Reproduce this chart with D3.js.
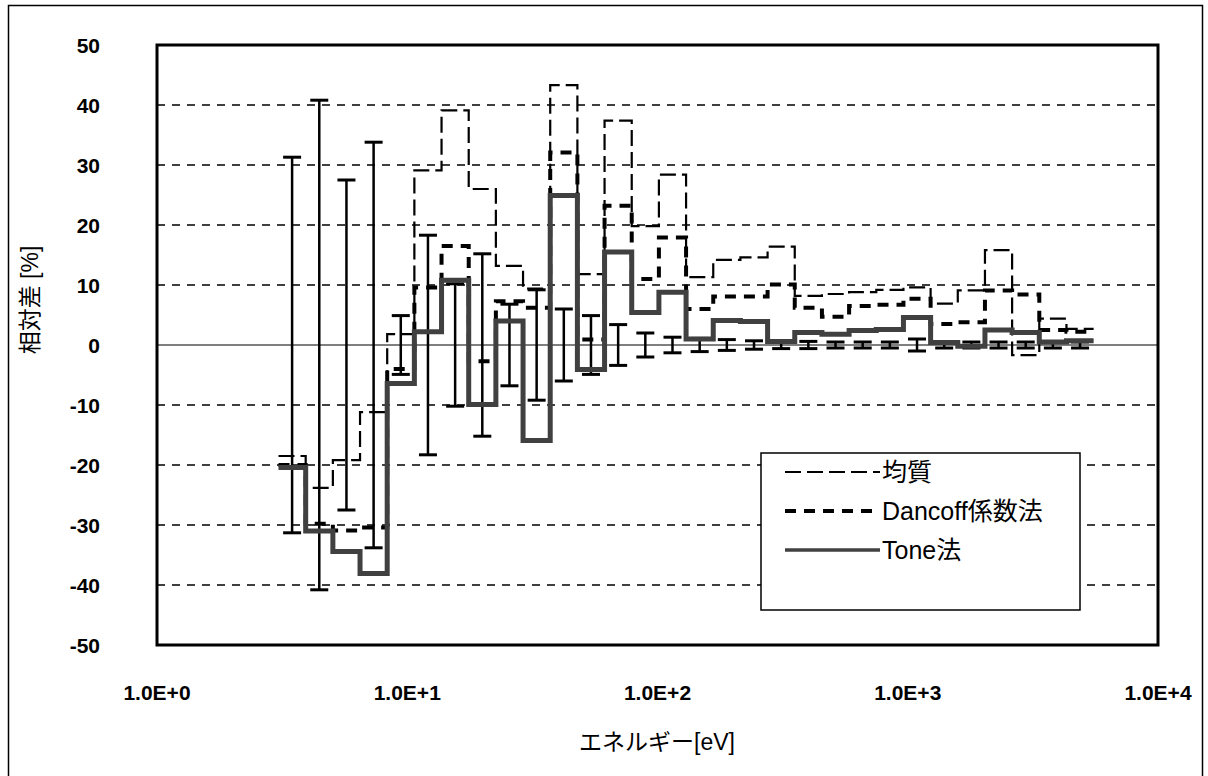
<!DOCTYPE html>
<html>
<head>
<meta charset="utf-8">
<script src="https://cdn.jsdelivr.net/npm/d3@7"></script>
<style>
  body { margin: 0; background: #fff; }
  text { font-family: "Liberation Sans", Arial, "Noto Sans CJK JP", sans-serif; }
</style>
</head>
<body>
<div id="chart"></div>
<script>
// 相対差 vs エネルギー : step plots per energy group (low -> high energy)

// group boundaries [eV] (30 groups)
const edges = [3.059, 3.928, 5.044, 6.476, 8.315, 10.677, 13.710, 17.604, 22.603, 29.023,
  37.266, 47.851, 61.442, 78.893, 101.30, 130.07, 167.02, 214.45, 275.36, 353.57,
  454.00, 582.94, 748.52, 961.12, 1234.1, 1584.6, 2034.7, 2612.6, 3354.6, 4307.4, 5530.8];

// relative difference [%] per group
const homog = [-18.5, -23.8, -19.2, -11.2, 1.8, 29.1, 39.1, 26.0, 13.2, 9.4,
  43.3, 11.8, 37.4, 19.8, 28.4, 11.3, 14.2, 14.6, 16.4, 8.2,
  8.5, 8.8, 9.2, 9.6, 6.9, 9.1, 15.8, -1.7, 4.4, 2.7];
const dancoff = [-20.0, -29.8, -30.9, -30.4, -4.0, 9.6, 16.5, -2.7, 7.3, 6.2,
  32.1, 0.9, 23.2, 11.0, 17.9, 6.0, 8.1, 8.1, 10.1, 6.2,
  4.7, 6.5, 6.7, 7.7, 3.5, 3.8, 9.1, 8.4, 2.5, 2.2];
const tone = [-20.4, -31.0, -34.4, -38.1, -6.4, 2.2, 10.8, -9.9, 4.0, -15.9,
  24.9, -4.1, 15.5, 5.4, 8.8, 1.0, 4.1, 3.9, 0.6, 2.1,
  1.8, 2.4, 2.6, 4.6, 0.4, -0.2, 2.5, 2.1, 0.5, 0.7];
// error bar half width [%]
const errs = [31.3, 40.8, 27.5, 33.8, 4.9, 18.3, 10.2, 15.2, 6.8, 9.2,
  6.0, 4.9, 3.4, 2.0, 1.3, 1.1, 0.9, 0.7, 0.6, 0.6,
  0.5, 0.5, 0.5, 1.0, 0.5, 0.5, 0.5, 0.5, 0.5, 0.5];

const yTicks = [-50, -40, -30, -20, -10, 0, 10, 20, 30, 40, 50];
const xTicks = [1, 10, 100, 1000, 10000];
const xTickLabels = ["1.0E+0", "1.0E+1", "1.0E+2", "1.0E+3", "1.0E+4"];
const legendNames = ["均質", "Dancoff係数法", "Tone法"];

const width = 1208, height = 776;

const svg = d3.select("#chart").append("svg")
  .attr("width", width)
  .attr("height", height);

// outer frame
svg.append("rect")
  .attr("x", 8.5).attr("y", 5.5)
  .attr("width", 1194).attr("height", 800)
  .attr("fill", "none").attr("stroke", "#000").attr("stroke-width", 1.5);

const x = d3.scaleLog().domain([1, 1e4]).range([157, 1158]);
const y = d3.scaleLinear().domain([-50, 50]).range([645, 45]);

// grid
svg.append("g")
  .selectAll("line")
  .data(yTicks.filter(d => d !== 0 && Math.abs(d) !== 50))
  .enter().append("line")
  .attr("x1", x.range()[0]).attr("x2", x.range()[1])
  .attr("y1", d => y(d)).attr("y2", d => y(d))
  .attr("stroke", "#000").attr("stroke-width", 1.5)
  .attr("stroke-dasharray", "8,7");

// zero line
svg.append("line")
  .attr("x1", x.range()[0]).attr("x2", x.range()[1])
  .attr("y1", y(0)).attr("y2", y(0))
  .attr("stroke", "#000").attr("stroke-width", 1.2);

// step path builder
function steps(vals) {
  const pts = [];
  vals.forEach((v, i) => {
    pts.push([edges[i], v]);
    pts.push([edges[i + 1], v]);
  });
  return pts;
}
const line = d3.line().x(d => x(d[0])).y(d => y(d[1]));

const series = [
  { name: legendNames[0], vals: homog, width: 2.2, dash: "16,6", color: "#000" },
  { name: legendNames[1], vals: dancoff, width: 4, dash: "11,8", color: "#000" },
  { name: legendNames[2], vals: tone, width: 5, dash: null, color: "#404040" }
];

// error bars
const eb = svg.append("g").attr("stroke", "#000");
errs.forEach((e, i) => {
  const cx = x(Math.sqrt(edges[i] * edges[i + 1]));
  eb.append("line")
    .attr("x1", cx).attr("x2", cx)
    .attr("y1", y(e)).attr("y2", y(-e))
    .attr("stroke-width", 2.5);
  [e, -e].forEach(v => {
    eb.append("line")
      .attr("x1", cx - 9).attr("x2", cx + 9)
      .attr("y1", y(v)).attr("y2", y(v))
      .attr("stroke-width", 3);
  });
});

// series
series.forEach(s => {
  svg.append("path")
    .datum(steps(s.vals))
    .attr("d", line)
    .attr("fill", "none")
    .attr("stroke", s.color)
    .attr("stroke-width", s.width)
    .attr("stroke-dasharray", s.dash);
});

// plot frame
svg.append("rect")
  .attr("x", x.range()[0]).attr("y", y(50))
  .attr("width", x.range()[1] - x.range()[0])
  .attr("height", y(-50) - y(50))
  .attr("fill", "none").attr("stroke", "#000").attr("stroke-width", 3);

// y tick labels
svg.append("g")
  .selectAll("text")
  .data(yTicks)
  .enter().append("text")
  .attr("x", 100)
  .attr("y", d => y(d))
  .attr("dy", "0.36em")
  .attr("text-anchor", "end")
  .attr("font-size", 21)
  .attr("font-weight", "bold")
  .text(d => d);

// x tick labels
svg.append("g")
  .selectAll("text")
  .data(xTicks)
  .enter().append("text")
  .attr("x", d => x(d))
  .attr("y", 700)
  .attr("text-anchor", "middle")
  .attr("font-size", 21)
  .attr("font-weight", "bold")
  .text((d, i) => xTickLabels[i]);

// axis titles
svg.append("text")
  .attr("x", 657).attr("y", 750)
  .attr("text-anchor", "middle")
  .attr("font-size", 23)
  .text("エネルギー[eV]");

svg.append("text")
  .attr("transform", "translate(38,300) rotate(-90)")
  .attr("text-anchor", "middle")
  .attr("font-size", 23)
  .text("相対差 [%]");

// legend
const lg = svg.append("g");
lg.append("rect")
  .attr("x", 761).attr("y", 453)
  .attr("width", 319).attr("height", 157)
  .attr("fill", "#fff").attr("stroke", "#000").attr("stroke-width", 1.5);

series.forEach((s, i) => {
  const ly = 472 + i * 39;
  lg.append("line")
    .attr("x1", 785).attr("x2", 880)
    .attr("y1", ly).attr("y2", ly)
    .attr("stroke", s.color)
    .attr("stroke-width", i === 2 ? 3.5 : s.width)
    .attr("stroke-dasharray", s.dash);
  lg.append("text")
    .attr("x", 882).attr("y", ly)
    .attr("dy", "0.36em")
    .attr("font-size", 25)
    .text(s.name);
});
</script>
</body>
</html>
